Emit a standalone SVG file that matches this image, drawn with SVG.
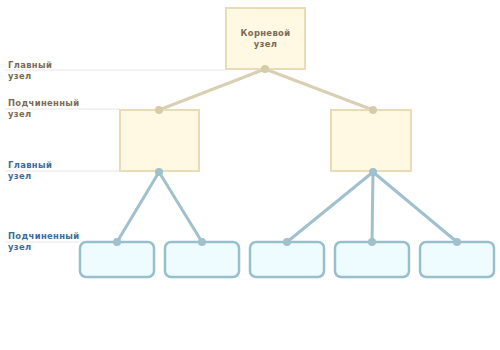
<svg xmlns="http://www.w3.org/2000/svg" width="500" height="350" viewBox="0 0 500 350">
<style>
.guide{stroke:#e6e6e6;stroke-width:1}
.lbl{font-family:"DejaVu Sans",sans-serif;font-weight:bold;font-size:8.4px;letter-spacing:0.35px}
.brown{fill:#7a6a55}
.blue{fill:#3d6b96}
.yb{fill:#fff8e3;stroke:#e8dbb5;stroke-width:2}
.bb{fill:#effcff;stroke:#98bfcc;stroke-width:2.5}
.tc{stroke:#d9cfb3;stroke-width:3;fill:none}
.bc{stroke:#9fc0cc;stroke-width:3;fill:none}
.td{fill:#d6cbaa}
.bd{fill:#9fc0cc}
</style>
<g id="guides">
<line class="guide" x1="5" y1="70" x2="225" y2="70"/>
<line class="guide" x1="5" y1="109" x2="119" y2="109"/>
<line class="guide" x1="5" y1="171" x2="119" y2="171"/>
<line class="guide" x1="5" y1="242" x2="79" y2="242"/>
</g>
<g id="labels">
<text class="lbl brown" x="8" y="68">Главный</text>
<text class="lbl brown" x="8" y="79">узел</text>
<text class="lbl brown" x="8" y="106">Подчиненный</text>
<text class="lbl brown" x="8" y="117">узел</text>
<text class="lbl blue" x="8" y="168">Главный</text>
<text class="lbl blue" x="8" y="179">узел</text>
<text class="lbl blue" x="8" y="239">Подчиненный</text>
<text class="lbl blue" x="8" y="250">узел</text>
</g>
<g id="connectors">
<line class="tc" x1="265" y1="69" x2="159" y2="110"/>
<line class="tc" x1="265" y1="69" x2="373" y2="110"/>
<line class="bc" x1="159" y1="172" x2="117" y2="242"/>
<line class="bc" x1="159" y1="172" x2="202" y2="242"/>
<line class="bc" x1="373" y1="172" x2="287" y2="242"/>
<line class="bc" x1="373" y1="172" x2="372" y2="242"/>
<line class="bc" x1="373" y1="172" x2="457" y2="242"/>
</g>
<g id="root">
<rect class="yb" x="226" y="8" width="79" height="61"/>
<text class="lbl brown" x="265.5" y="36" text-anchor="middle">Корневой</text>
<text class="lbl brown" x="265.5" y="47" text-anchor="middle">узел</text>
</g>
<g id="mid-left"><rect class="yb" x="120" y="110" width="79" height="61"/></g>
<g id="mid-right"><rect class="yb" x="331" y="110" width="80" height="61"/></g>
<g id="leaf1"><rect class="bb" x="80" y="242" width="74" height="35" rx="6"/></g>
<g id="leaf2"><rect class="bb" x="165" y="242" width="74" height="35" rx="6"/></g>
<g id="leaf3"><rect class="bb" x="250" y="242" width="74" height="35" rx="6"/></g>
<g id="leaf4"><rect class="bb" x="335" y="242" width="74" height="35" rx="6"/></g>
<g id="leaf5"><rect class="bb" x="420" y="242" width="74" height="35" rx="6"/></g>
<g id="dots">
<circle class="td" cx="265" cy="69" r="4"/>
<circle class="td" cx="159" cy="110" r="4"/>
<circle class="td" cx="373" cy="110" r="4"/>
<circle class="bd" cx="159" cy="172" r="4"/>
<circle class="bd" cx="373" cy="172" r="4"/>
<circle class="bd" cx="117" cy="242" r="4"/>
<circle class="bd" cx="202" cy="242" r="4"/>
<circle class="bd" cx="287" cy="242" r="4"/>
<circle class="bd" cx="372" cy="242" r="4"/>
<circle class="bd" cx="457" cy="242" r="4"/>
</g>
</svg>
